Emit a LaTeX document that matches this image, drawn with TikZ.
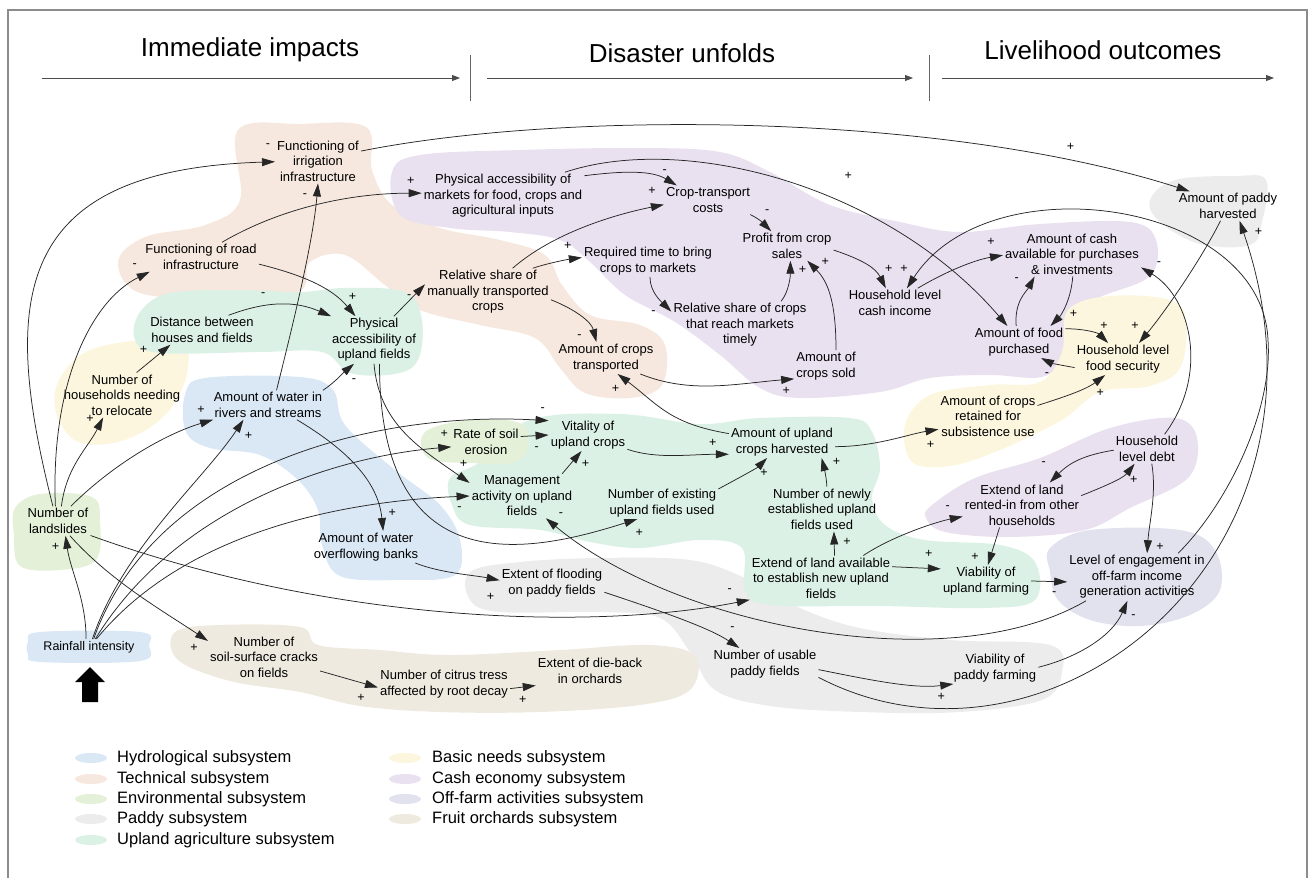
\documentclass[tikz,border=0pt]{standalone}
\usepackage{fontspec}
\setmainfont{Liberation Sans}
\usetikzlibrary{arrows.meta}

\definecolor{hydro}{RGB}{218,231,245}
\definecolor{techn}{RGB}{246,232,222}
\definecolor{envir}{RGB}{228,241,216}
\definecolor{paddyc}{RGB}{236,236,236}
\definecolor{upland}{RGB}{220,241,229}
\definecolor{basic}{RGB}{252,246,222}
\definecolor{cashc}{RGB}{234,225,240}
\definecolor{offfarm}{RGB}{226,226,238}
\definecolor{fruit}{RGB}{238,234,224}

\tikzset{
	var/.style={align=center, inner sep=2pt, font=\fontsize{13}{15.5}\selectfont},
	arr/.style={draw=black!85, line width=0.75pt, -{Triangle[length=13pt,width=8pt]}},
	sgn/.style={inner sep=0pt, font=\fontsize{12.5}{12.5}\selectfont},
	tline/.style={draw=black!70, line width=0.9pt, -{Triangle[length=8pt,width=6pt]}},
	lgd/.style={anchor=west, inner sep=0pt, font=\fontsize{16.5}{20}\selectfont},
	head/.style={font=\fontsize{26}{30}\selectfont}
}

\begin{document}
\begin{tikzpicture}[x=1pt,y=-1pt]
	\useasboundingbox (0,0) rectangle (1309,878);

	% subsystem areas
	\fill[techn] plot[smooth cycle, tension=0.6] coordinates {(238,130) (300,124) (366,127) (372,170) (392,205) (440,228) (500,240) (545,255) (562,285) (590,315) (640,325) (665,345) (662,385) (630,398) (585,393) (560,368) (535,338) (480,325) (420,310) (385,285) (345,255) (310,262) (298,292) (220,298) (140,293) (118,262) (145,237) (205,225) (240,200)};
	\fill[cashc] plot[smooth cycle, tension=0.6] coordinates {(392,172) (420,155) (520,150) (640,148) (720,152) (770,172) (830,205) (900,222) (960,232) (1040,224) (1130,222) (1156,240) (1150,276) (1098,298) (1070,318) (1064,356) (1042,377) (990,375) (930,378) (880,392) (800,398) (760,388) (720,355) (675,322) (625,295) (590,262) (560,240) (510,232) (450,228) (400,215)};
	\fill[cashc] plot[smooth cycle, tension=0.6] coordinates {(932,505) (975,478) (1040,458) (1110,428) (1175,418) (1197,438) (1188,478) (1130,508) (1085,530) (1010,537) (945,532) (926,518)};
	\fill[basic] plot[smooth cycle, tension=0.6] coordinates {(1068,310) (1110,296) (1170,300) (1186,322) (1180,368) (1150,386) (1100,392) (1062,420) (1000,450) (950,466) (912,462) (905,425) (930,395) (990,385) (1040,382) (1062,352)};
	\fill[basic] plot[smooth cycle, tension=0.6] coordinates {(60,378) (95,348) (175,340) (188,368) (168,412) (125,440) (78,442) (56,412)};
	\fill[paddyc] plot[smooth cycle, tension=0.6] coordinates {(1150,200) (1175,180) (1235,176) (1266,180) (1262,222) (1250,245) (1200,244) (1160,222)};
	\fill[paddyc] plot[smooth cycle, tension=0.6] coordinates {(470,572) (520,562) (600,558) (690,560) (745,578) (800,608) (860,628) (950,640) (1050,645) (1062,672) (1042,700) (960,712) (860,712) (770,706) (715,690) (690,652) (660,618) (600,612) (500,612) (470,600)};
	\fill[upland] plot[smooth cycle, tension=0.6] coordinates {(140,312) (170,293) (240,290) (300,292) (345,288) (405,292) (422,320) (418,360) (395,374) (350,373) (322,352) (260,352) (160,353) (135,340)};
	\fill[upland] plot[smooth cycle, tension=0.6] coordinates {(450,478) (480,462) (530,420) (620,414) (700,424) (760,418) (850,418) (872,432) (880,468) (872,498) (885,525) (925,540) (1000,545) (1035,562) (1035,600) (985,608) (880,606) (770,605) (745,590) (742,548) (700,540) (640,548) (590,542) (540,530) (470,525) (452,505)};
	\fill[envir] plot[smooth cycle, tension=0.6] coordinates {(425,432) (470,420) (520,423) (528,445) (515,462) (470,463) (428,458)};
	\fill[envir] plot[smooth cycle, tension=0.6] coordinates {(15,508) (40,494) (92,497) (100,522) (96,560) (60,570) (20,566) (14,535)};
	\fill[hydro] plot[smooth cycle, tension=0.6] coordinates {(185,395) (205,378) (300,377) (333,390) (345,425) (395,470) (440,505) (460,540) (455,575) (400,580) (340,576) (322,545) (318,510) (298,480) (260,455) (210,448) (186,432)};
	\fill[hydro] plot[smooth cycle, tension=0.6] coordinates {(28,642) (40,632) (140,632) (149,645) (140,661) (40,662) (28,654)};
	\fill[offfarm] plot[smooth cycle, tension=0.6] coordinates {(1050,548) (1090,530) (1180,530) (1215,550) (1220,590) (1190,615) (1140,626) (1090,620) (1058,600) (1050,572)};
	\fill[fruit] plot[smooth cycle, tension=0.6] coordinates {(175,632) (220,625) (300,627) (318,645) (380,650) (450,655) (560,650) (650,645) (695,656) (690,690) (640,705) (540,712) (440,712) (360,706) (300,692) (230,681) (178,660)};

	\draw[black!45, line width=1.6pt] (8,878) -- (8,10) -- (1307,10) -- (1307,878);

	% time line
	\node[head] (hd1) at (250,50) {Immediate impacts};
	\node[head] (hd2) at (682,53) {Disaster unfolds};
	\node[head] (hd3) at (1103,50) {Livelihood outcomes};
	\coordinate (ta) at (42,78);
	\coordinate (tb) at (460,78);
	\coordinate (tc) at (487,78);
	\coordinate (td) at (913,78);
	\coordinate (te) at (942,78);
	\coordinate (tf) at (1274,78);
	\draw[tline] (ta) -- (tb);
	\draw[tline] (tc) -- (td);
	\draw[tline] (te) -- (tf);
	\draw[black!60, line width=0.8pt] (470,55) -- (470,101);
	\draw[black!60, line width=0.8pt] (929,55) -- (929,101);

	% variables
	\node[var] (irr) at (318,161) {Functioning of\\irrigation\\infrastructure};
	\node[var] (road) at (201,257) {Functioning of road\\infrastructure};
	\node[var] (mkt) at (503,196) {Physical accessibility of\\markets for food, crops and\\agricultural inputs};
	\node[var] (ctc) at (708,200) {Crop-transport\\costs};
	\node[var] (prof) at (787,246) {Profit from crop\\sales};
	\node[var] (time) at (648,261) {Required time to bring\\crops to markets};
	\node[var] (rsm) at (488,292) {Relative share of\\manually transported\\crops};
	\node[var] (rst) at (740,325) {Relative share of crops\\that reach markets\\timely};
	\node[var] (act) at (606,358) {Amount of crops\\transported};
	\node[var] (sold) at (826,366) {Amount of\\crops sold};
	\node[var] (inc) at (895,303) {Household level\\cash income};
	\node[var] (cash) at (1072,254) {Amount of cash\\available for purchases\\\& investments};
	\node[var] (food) at (1019,342) {Amount of food\\purchased};
	\node[var] (fs) at (1123,359) {Household level\\food security};
	\node[var] (paddy) at (1228,206) {Amount of paddy\\harvested};
	\node[var] (ret) at (988,416) {Amount of crops\\retained for\\subsistence use};
	\node[var] (debt) at (1147,449) {Household\\level debt};
	\node[var] (rent) at (1022,505) {Extend of land\\rented-in from other\\households};
	\node[var] (eng) at (1137,577) {Level of engagement in\\off-farm income\\generation activities};
	\node[var] (vup) at (986,581) {Viability of\\upland farming};
	\node[var] (ela) at (821,578) {Extend of land available\\to establish new upland\\fields};
	\node[var] (new) at (822,509) {Number of newly\\established upland\\fields used};
	\node[var] (harv) at (782,442) {Amount of upland\\crops harvested};
	\node[var] (vit) at (588,435) {Vitality of\\upland crops};
	\node[var] (ero) at (486,442) {Rate of soil\\erosion};
	\node[var] (man) at (522,496) {Management\\activity on upland\\fields};
	\node[var] (exi) at (662,503) {Number of existing\\upland fields used};
	\node[var] (acc) at (374,340) {Physical\\accessibility of\\upland fields};
	\node[var] (dist) at (202,330) {Distance between\\houses and fields};
	\node[var] (rel) at (122,395) {Number of\\households needing\\to relocate};
	\node[var] (riv) at (268,405) {Amount of water in\\rivers and streams};
	\node[var] (ovf) at (366,547) {Amount of water\\overflowing banks};
	\node[var] (ls) at (58,521) {Number of\\landslides};
	\node[var, font=\fontsize{12.5}{15}\selectfont] (rain) at (89,647) {Rainfall intensity};
	\node[var] (crk) at (264,657) {Number of\\soil-surface cracks\\on fields};
	\node[var] (cit) at (444,684) {Number of citrus tress\\affected by root decay};
	\node[var] (die) at (590,671) {Extent of die-back\\in orchards};
	\node[var] (fld) at (552,583) {Extent of flooding\\on paddy fields};
	\node[var] (usp) at (765,664) {Number of usable\\paddy fields};
	\node[var] (vpd) at (995,668) {Viability of\\paddy farming};

	\fill (90,667) -- (105,682) -- (98,682) -- (98,702) -- (82,702) -- (82,682) -- (75,682) -- cycle;

	% rainfall and landslides
	\draw[arr] (rain.110) .. controls +(0,-40) and +(5,35) .. (ls.-63) node[sgn,shift={(-10,11)}]{+};
	\draw[arr] (rain.67) .. controls +(30,-90) and +(-40,60) .. (riv.211) node[sgn,shift={(5,16)}]{+};
	\draw[arr] (rain.60) .. controls +(60,-170) and +(-180,-10) .. (vit.160) node[sgn,shift={(-6,-11)}]{-};
	\draw[arr] (rain.52) .. controls +(80,-130) and +(-120,10) .. (ero.188) node[sgn,shift={(-7,-13)}]{+};
	\draw[arr] (rain.47) .. controls +(90,-110) and +(-120,5) .. (man.180) node[sgn,shift={(-10,13)}]{-};
	\draw[arr] (ls.109) .. controls +(-52,-205) and +(-265,8) .. (irr.181) node[sgn,shift={(-7,-16)}]{-};
	\draw[arr] (ls.100) .. controls +(-5,-120) and +(-60,30) .. (road.196) node[sgn,shift={(-15,-6)}]{-};
	\draw[arr] (ls.77) .. controls +(5,-40) and +(-15,30) .. (rel.230) node[sgn,shift={(-13,1)}]{+};
	\draw[arr] (ls.49) .. controls +(40,-40) and +(-50,15) .. (riv.195) node[sgn,shift={(-12,-10)}]{+};
	\draw[arr] (ls.-51) .. controls +(40,45) and +(-45,-30) .. (crk.164) node[sgn,shift={(-14,7)}]{+};
	\draw[arr] (ls.-24) .. controls +(250,90) and +(-150,30) .. (ela.197) node[sgn,shift={(-20,-9)}]{-};

	% water, roads and fields
	\draw[arr] (riv.60) .. controls +(15,-60) and +(-5,60) .. (irr.south) node[sgn,shift={(-13,12)}]{-};
	\draw[arr] (riv.15) .. controls +(12,-8) and +(-12,10) .. (acc.230) node[sgn,shift={(0,17)}]{-};
	\draw[arr] (riv.-27) .. controls +(50,30) and +(-5,-50) .. (ovf.43) node[sgn,shift={(9,-18)}]{+};
	\draw[arr] (rel.57) -- (dist.205) node[sgn,shift={(-27,5)}]{+};
	\draw[arr] (dist.29) .. controls +(40,-15) and +(-35,-15) .. (acc.151) node[sgn,shift={(-68,-22)}]{-};
	\draw[arr] (road.-7) .. controls +(40,10) and +(-25,-30) .. (acc.128) node[sgn,shift={(-3,-19)}]{+};
	\draw[arr] (road.35) .. controls +(60,-35) and +(-70,0) .. (mkt.178) node[sgn,shift={(-11,-12)}]{+};
	\draw[arr] (acc.50) -- (rsm.173) node[sgn,shift={(-16,12)}]{-};
	\draw[arr] (acc.-90) .. controls +(5,60) and +(-50,-35) .. (man.166) node[sgn,shift={(-6,-19)}]{+};
	\draw[arr] (acc.-77) .. controls +(0,220) and +(-110,35) .. (exi.213) node[sgn,shift={(2,14)}]{+};

	% transport and markets
	\draw[arr] (rsm.44) .. controls +(40,-35) and +(-50,10) .. (ctc.186) node[sgn,shift={(-12,-14)}]{+};
	\draw[arr] (rsm.28) .. controls +(15,-5) and +(-15,2) .. (time.177) node[sgn,shift={(-14,-12)}]{+};
	\draw[arr] (rsm.-7) .. controls +(25,10) and +(-5,-20) .. (act.121) node[sgn,shift={(-17,-5)}]{-};
	\draw[arr] (mkt.14) .. controls +(40,-5) and +(-25,-15) .. (ctc.155) node[sgn,shift={(-12,-14)}]{-};
	\draw[arr] (mkt.21) .. controls +(120,-40) and +(-120,-140) .. (food.126) node[sgn,shift={(-159,-150)}]{+};
	\draw[arr] (ctc.-19) .. controls +(10,5) and +(-8,-8) .. (prof.137) node[sgn,shift={(-4,-20)}]{-};
	\draw[arr] (time.-83) .. controls +(0,15) and +(-10,-10) .. (rst.169) node[sgn,shift={(-18,1)}]{-};
	\draw[arr] (rst.30) .. controls +(8,-10) and +(0,15) .. (prof.-77) node[sgn,shift={(12,9)}]{+};
	\draw[arr] (sold.58) .. controls +(0,-50) and +(20,20) .. (prof.-36) node[sgn,shift={(18,1)}]{+};
	\draw[arr] (act.-25) .. controls +(50,20) and +(-60,5) .. (sold.202) node[sgn,shift={(-8,12)}]{+};
	\draw[arr] (harv.171) .. controls +(-60,-10) and +(40,30) .. (act.-54) node[sgn,shift={(-2,15)}]{+};

	% cash economy and food
	\draw[arr] (prof.-5) .. controls +(30,10) and +(-10,-20) .. (inc.122) node[sgn,shift={(3,-19)}]{+};
	\draw[arr] (inc.33) .. controls +(25,-15) and +(-30,5) .. (cash.181) node[sgn,shift={(-12,-13)}]{+};
	\draw[arr] (food.100) .. controls +(-2,-25) and +(-8,15) .. (cash.211) node[sgn,shift={(-18,3)}]{-};
	\draw[arr] (cash.-88) .. controls +(-2,25) and +(10,-10) .. (food.27) node[sgn,shift={(23,-12)}]{+};
	\draw[arr] (food.16) .. controls +(20,0) and +(-10,-10) .. (fs.133) node[sgn,shift={(-4,-17)}]{+};
	\draw[arr] (fs.190) .. controls +(-12,-2) and +(10,5) .. (food.-36) node[sgn,shift={(6,17)}]{-};
	\draw[arr] (paddy.-117) .. controls +(-20,40) and +(25,-30) .. (fs.45) node[sgn,shift={(-4,-17)}]{+};
	\draw[arr] (ret.12) .. controls +(25,-8) and +(-20,15) .. (fs.222) node[sgn,shift={(-5,18)}]{+};
	\draw[arr] (harv.-5) .. controls +(40,0) and +(-30,5) .. (ret.195) node[sgn,shift={(-8,16)}]{+};

	% debt and off-farm work
	\draw[arr] (debt.182) .. controls +(-30,5) and +(20,-20) .. (rent.39) node[sgn,shift={(-6,-19)}]{-};
	\draw[arr] (rent.9) .. controls +(20,-8) and +(-12,15) .. (debt.230) node[sgn,shift={(-1,16)}]{+};
	\draw[arr] (debt.-72) .. controls +(5,30) and +(2,-30) .. (eng.67) node[sgn,shift={(13,-6)}]{+};
	\draw[arr] (debt.40) .. controls +(45,-60) and +(50,30) .. (cash.-11) node[sgn,shift={(18,-4)}]{-};
	\coordinate (engbend) at (1268,340);
	\draw[arr] (eng.30) .. controls +(50,-50) and +(5,70) .. (engbend) .. controls +(-6,-140) and +(82,-127) .. (inc.51) node[sgn,shift={(-3,-19)}]{+};

	% upland farming
	\draw[arr] (ela.28) .. controls +(30,-20) and +(-25,5) .. (rent.191) node[sgn,shift={(-15,-9)}]{-};
	\draw[arr] (ela.59) -- (new.-62) node[sgn,shift={(13,10)}]{+};
	\draw[arr] (ela.9) -- (vup.165) node[sgn,shift={(-12,-15)}]{+};
	\draw[arr] (rent.225) .. controls +(-3,10) and +(3,-10) .. (vup.83) node[sgn,shift={(-13,-8)}]{+};
	\draw[arr] (new.78) .. controls +(0,-8) and +(2,8) .. (harv.-22) node[sgn,shift={(15,4)}]{+};
	\draw[arr] (exi.14) .. controls +(15,-8) and +(-10,10) .. (harv.227) node[sgn,shift={(-3,15)}]{+};
	\draw[arr] (vit.-20) .. controls +(30,10) and +(-40,0) .. (harv.193) node[sgn,shift={(-16,-11)}]{+};
	\draw[arr] (man.29) -- (vit.248) node[sgn,shift={(4,13)}]{+};
	\draw[arr] (ero.9) -- (vit.180) node[sgn,shift={(-12,14)}]{-};
	\draw[arr] (eng.205) .. controls +(-135,79) and +(132,110) .. (man.-43) node[sgn,shift={(15,-4)}]{-};

	% paddy and off-farm
	\draw[arr] (vup.0) -- (eng.184) node[sgn,shift={(-13,12)}]{-};
	\draw[arr] (vpd.1) .. controls +(40,-10) and +(-15,35) .. (eng.248) node[sgn,shift={(6,16)}]{-};
	\draw[arr] (usp.-6) .. controls +(50,10) and +(-40,5) .. (vpd.201) node[sgn,shift={(-12,13)}]{+};
	\draw[arr] (usp.-14) .. controls +(230,120) and +(115,335) .. (paddy.-52) node[sgn,shift={(19,11)}]{+};
	\draw[arr] (fld.-10) .. controls +(60,20) and +(-30,-20) .. (usp.148) node[sgn,shift={(-7,-19)}]{-};
	\draw[arr] (ovf.-18) .. controls +(25,10) and +(-25,-5) .. (fld.177) node[sgn,shift={(-9,17)}]{+};
	\draw[arr] (irr.13) .. controls +(200,-40) and +(-250,-80) .. (paddy.159) node[sgn,shift={(-119,-44)}]{+};

	% orchards
	\draw[arr] (crk.-14) -- (cit.183) node[sgn,shift={(-17,10)}]{+};
	\draw[arr] (cit.-4) -- (die.195) node[sgn,shift={(-13,14)}]{+};

	% legend
	\fill[hydro] (91,758) ellipse (16 and 5);
	\fill[techn] (91,779) ellipse (16 and 5);
	\fill[envir] (91,799) ellipse (16 and 5);
	\fill[paddyc] (91,819) ellipse (16 and 5);
	\fill[upland] (91,840) ellipse (16 and 5);
	\fill[basic] (405,758) ellipse (16 and 5);
	\fill[cashc] (405,779) ellipse (16 and 5);
	\fill[offfarm] (405,799) ellipse (16 and 5);
	\fill[fruit] (405,819) ellipse (16 and 5);
	\node[lgd] (lg1) at (117,758) {Hydrological subsystem};
	\node[lgd] (lg2) at (117,779) {Technical subsystem};
	\node[lgd] (lg3) at (117,799) {Environmental subsystem};
	\node[lgd] (lg4) at (117,819) {Paddy subsystem};
	\node[lgd] (lg5) at (117,840) {Upland agriculture subsystem};
	\node[lgd] (lg6) at (432,758) {Basic needs subsystem};
	\node[lgd] (lg7) at (432,779) {Cash economy subsystem};
	\node[lgd] (lg8) at (432,799) {Off-farm activities subsystem};
	\node[lgd] (lg9) at (432,819) {Fruit orchards subsystem};
\end{tikzpicture}
\end{document}
